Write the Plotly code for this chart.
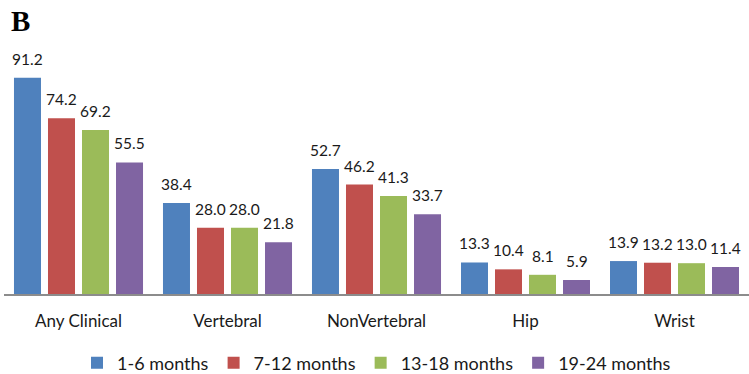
import plotly.graph_objects as go

categories = ["Any Clinical", "Vertebral", "NonVertebral", "Hip", "Wrist"]
series_names = ["1-6 months", "7-12 months", "13-18 months", "19-24 months"]
v_1_6 = [91.2, 38.4, 52.7, 13.3, 13.9]
v_7_12 = [74.2, 28.0, 46.2, 10.4, 13.2]
v_13_18 = [69.2, 28.0, 41.3, 8.1, 13.0]
v_19_24 = [55.5, 21.8, 33.7, 5.9, 11.4]
series_values = [v_1_6, v_7_12, v_13_18, v_19_24]
colors = ["#4F81BD", "#C0504D", "#9BBB59", "#8064A2"]

FONT = "Lato"
bargap = 0.087
bargroupgap = 0.206

fig = go.Figure()
for name, vals, col in zip(series_names, series_values, colors):
    fig.add_trace(go.Bar(x=categories, y=vals, name=name, marker_color=col,
                         marker_line_width=0))

# data labels above bars
n = len(series_names)
slot = (1 - bargap) / n
annotations = []
for si, vals in enumerate(series_values):
    off = (si - (n - 1) / 2) * slot
    for ci, v in enumerate(vals):
        annotations.append(dict(x=ci + off, y=v, xref="x", yref="y",
                                text=f"{v:.1f}", showarrow=False,
                                yanchor="middle", yshift=19,
                                font=dict(family=FONT, size=15.5, color="#1a1a1a")))
annotations.append(dict(x=0, y=1, xref="paper", yref="paper", xshift=5, yshift=54,
                        text="<b>B</b>", showarrow=False, xanchor="left", yanchor="top",
                        font=dict(family="Liberation Serif", size=29, color="#000")))

fig.update_layout(
    width=749, height=374,
    margin=dict(l=4, r=0, t=57, b=80, autoexpand=False),
    paper_bgcolor="white", plot_bgcolor="white",
    barmode="group", bargap=bargap, bargroupgap=bargroupgap,
    annotations=annotations,
    showlegend=True,
    legend=dict(orientation="h", x=0.5, xanchor="center",
                yref="container", y=1 - 363 / 374, yanchor="middle",
                font=dict(family=FONT, size=18, color="#1a1a1a"),
                bgcolor="rgba(0,0,0,0)", itemwidth=30, tracegroupgap=0),
    xaxis=dict(showline=True, linecolor="#8c8c8c", linewidth=2, ticks="",
               showgrid=False, tickfont=dict(family=FONT, size=17, color="#1a1a1a"),
               ticklabelstandoff=11),
    yaxis=dict(range=[0, 100], visible=False, showgrid=False),
)
fig.write_html("out.html")
